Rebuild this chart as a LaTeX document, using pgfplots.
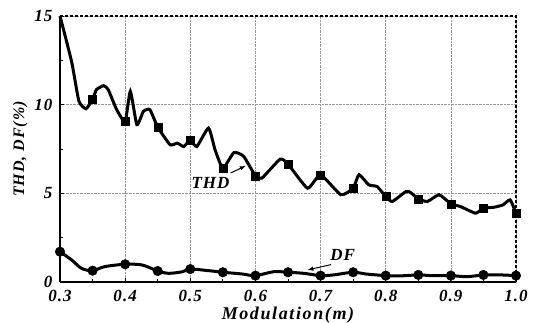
\documentclass[border=0pt]{standalone}
\usepackage{fontspec}
\setmainfont{Liberation Serif}
\newfontfamily\lblfont[LetterSpace=6]{Liberation Serif}
\newfontfamily\xlblfont[LetterSpace=9]{Liberation Serif}
\usepackage{pgfplots}
\pgfplotsset{compat=1.18}
\begin{document}
\begin{tikzpicture}
\begin{axis}[
  scale only axis, width=456pt, height=266pt,
  xmin=0.3, xmax=1.0, ymin=0, ymax=15,
  axis lines=left, axis line style={-, line width=1.6pt},
  xtick={0.3,0.4,...,1.0}, ytick={0,5,10,15},
  minor x tick num=1, minor y tick num=1,
  tick style={black, line width=0.8pt}, tick align=inside,
  major tick length=4pt, minor tick length=3pt,
  xticklabel style={/pgf/number format/fixed, /pgf/number format/fixed zerofill, /pgf/number format/precision=1, yshift=-5pt},
  yticklabel style={xshift=-4pt},
  /pgf/number format/assume math mode=true,
  ticklabel style={font=\lblfont\bfseries\itshape\fontsize{17}{17}\selectfont},
  xlabel={Modulation(m)}, ylabel={THD, DF(\%)},
  xlabel style={font=\xlblfont\bfseries\itshape\fontsize{18}{18}\selectfont, yshift=2pt},
  ylabel style={font=\lblfont\bfseries\itshape\fontsize{16}{16}\selectfont, yshift=0pt},
  grid=major, major grid style={densely dotted, gray!80, line width=0.6pt},
  clip=false,
]
% THD line
\addplot[black, line width=3pt, smooth, tension=0.3] coordinates {
(0.300,15.0)(0.318,12.4)(0.329,10.2)(0.340,9.77)(0.350,10.3)(0.356,10.85)(0.367,11.07)(0.374,10.85)(0.387,9.72)(0.400,9.05)(0.408,10.75)(0.418,8.87)(0.428,9.62)(0.438,9.72)(0.450,8.74)(0.469,7.74)(0.480,7.83)(0.490,7.64)(0.500,8.0)(0.510,7.64)(0.528,8.68)(0.538,7.46)(0.550,6.42)(0.567,7.3)(0.582,7.08)(0.600,5.99)(0.610,5.86)(0.638,6.93)(0.650,6.65)(0.680,5.29)(0.700,6.05)(0.731,4.92)(0.750,5.29)(0.759,6.05)(0.774,5.48)(0.787,5.38)(0.800,4.82)(0.810,4.54)(0.831,5.1)(0.838,5.05)(0.850,4.69)(0.864,4.54)(0.882,4.92)(0.900,4.41)(0.915,4.25)(0.938,3.88)(0.950,4.16)(0.967,4.22)(0.980,4.35)(0.991,4.63)(1.000,3.88)
};
\addplot[only marks, mark=square*, mark size=4pt, black] coordinates {
(0.35,10.3)(0.40,9.05)(0.45,8.74)(0.50,8.0)(0.55,6.42)(0.60,5.99)(0.65,6.65)(0.70,6.05)(0.75,5.29)(0.80,4.82)(0.85,4.69)(0.90,4.41)(0.95,4.16)(1.00,3.88)
};
% DF line
\addplot[black, line width=3pt, smooth, tension=0.5] coordinates {
(0.300,1.71)(0.318,1.24)(0.333,0.77)(0.350,0.64)(0.369,0.87)(0.400,1.0)(0.426,0.96)(0.450,0.62)(0.467,0.49)(0.488,0.58)(0.500,0.73)(0.528,0.64)(0.550,0.55)(0.580,0.45)(0.600,0.36)(0.628,0.58)(0.650,0.55)(0.674,0.49)(0.700,0.36)(0.720,0.40)(0.750,0.55)(0.770,0.45)(0.800,0.36)(0.820,0.34)(0.850,0.40)(0.870,0.36)(0.900,0.36)(0.925,0.30)(0.950,0.40)(0.976,0.40)(1.000,0.36)
};
\addplot[only marks, mark=*, mark size=4.8pt, black] coordinates {
(0.30,1.71)(0.35,0.64)(0.40,1.0)(0.45,0.62)(0.50,0.73)(0.55,0.55)(0.60,0.36)(0.65,0.55)(0.70,0.36)(0.75,0.55)(0.80,0.36)(0.85,0.40)(0.90,0.36)(0.95,0.40)(1.00,0.36)
};
% box top and right
\draw[black, line width=1.4pt, densely dashed] (axis cs:0.3,15) -- (axis cs:1.0,15) -- (axis cs:1.0,0);
% annotations
\node[font=\lblfont\bfseries\itshape\fontsize{17}{17}\selectfont] at (axis cs:0.531,5.6) {THD};
\draw[-latex, line width=1pt] (axis cs:0.562,6.15) -- (axis cs:0.585,6.55);
\node[font=\lblfont\bfseries\itshape\fontsize{17}{17}\selectfont] at (axis cs:0.734,1.55) {DF};
\draw[-latex, line width=1pt] (axis cs:0.716,0.98) -- (axis cs:0.68,0.68);
\end{axis}
\pgfresetboundingbox
\path[use as bounding box] (-60pt,-40pt) rectangle (480pt,282pt);
\end{tikzpicture}
\end{document}
